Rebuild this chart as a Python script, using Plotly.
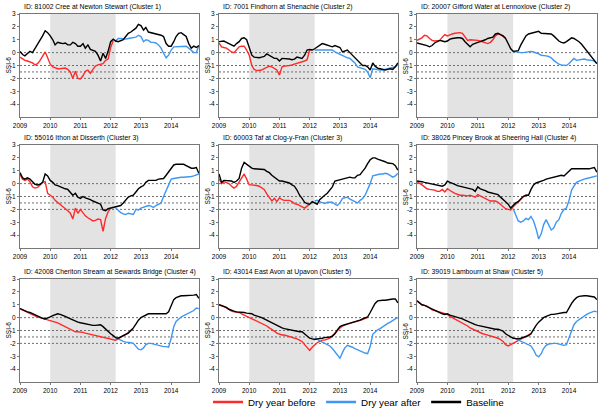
import pandas as pd
import plotly.graph_objects as go

MONTHS = pd.date_range("2009-01-01", "2014-12-01", freq="MS")
AFTER_START = "2012-03-01"
SHADE_START, SHADE_END = "2010-01-01", "2012-03-01"
THRESHOLDS = [0, -1, -1.5, -2]
Y_TICKS = [-4, -3, -2, -1, 0, 1, 2, 3]
X_TICK_YEARS = ["2009", "2010", "2011", "2012", "2013", "2014"]
SERIES_NAMES = ["Dry year before", "Dry year after", "Baseline"]

TITLES = [
    "ID: 81002 Cree at Newton Stewart (Cluster 1)",
    "ID: 7001 Findhorn at Shenachie (Cluster 2)",
    "ID: 20007 Gifford Water at Lennoxlove (Cluster 2)",
    "ID: 55016 Ithon at Disserth (Cluster 3)",
    "ID: 60003 Taf at Clog-y-Fran (Cluster 3)",
    "ID: 38026 Pincey Brook at Sheering Hall (Cluster 4)",
    "ID: 42008 Cheriton Stream at Sewards Bridge (Cluster 4)",
    "ID: 43014 East Avon at Upavon (Cluster 5)",
    "ID: 39019 Lambourn at Shaw (Cluster 5)",
]

# ---------- 81002 Cree ----------
cree_base = [0.1, -0.15, -0.25, -0.1, 0.1, 0.0, 0.3, 0.6, 1.0, 1.3, 1.7, 1.55,
             1.3, 1.0, 0.6, 0.8, 0.75, 0.7, 0.75, 0.6, 0.6, 0.8, 0.7, 0.5,
             0.5, 0.7, 0.35, 0.6, 0.25, 0.2, 0.1, -0.2, -0.65, -0.05, -0.45, 0.1,
             0.85, 1.05, 0.9, 0.85, 0.9, 1.0, 1.25, 1.5, 1.6, 1.75, 1.9, 2.2,
             2.1, 1.75, 1.95, 1.6, 1.55, 1.55, 1.5, 1.4, 1.35, 1.25, 0.7, 0.5,
             0.5, 0.85, 1.25, 1.5, 1.55, 1.4, 1.25, 0.7, 0.35, 0.5, 0.4, 0.55]
cree_before = [-0.35, -0.5, -0.6, -0.65, -0.7, -0.8, -0.95, -0.85, -0.6, -0.3, 0.05, -0.4,
               -0.9, -1.1, -1.2, -1.25, -1.25, -1.25, -1.2, -1.3, -1.5, -2.0, -1.45, -2.0,
               -2.05, -1.8, -1.45, -1.35, -1.6, -1.3, -1.05, -0.95, -0.9, -0.85, -0.6, -0.5,
               0.4, 0.95]
cree_after = [0.9, 1.1, 1.1, 1.05, 1.05, 1.1, 1.15, 1.2, 1.2, 1.35,
              1.25, 0.85, 1.0, 0.95, 0.8, 0.8, 0.75, 0.6, 0.35, -0.05, -0.4, -0.2,
              0.2, 0.45, 0.45, 0.45, 0.5, 0.45, 0.5, 0.35, 0.2, 0.0, 0.0, 0.55]

# ---------- 7001 Findhorn ----------
findhorn_base = [0.85, 0.85, 0.9, 0.8, 0.7, 0.6, 0.5, 0.7, 0.85, 1.1, 1.15, 1.0,
                 0.3, -0.2, -0.35, -0.4, -0.4, -0.35, -0.3, -0.1, -0.2, -0.3, -0.45, -0.45,
                 -0.65, -0.45, -0.45, -0.45, -0.5, -0.55, -0.5, -0.35, -0.4, -0.45, -0.2, 0.2,
                 0.25, 0.2, 0.3, 0.45, 0.6, 0.7, 0.65, 0.6, 0.5, 0.45, 0.55, 0.45,
                 0.4, 0.05, 0.15, 0.2, 0.0, -0.2, -0.4, -0.6, -0.8, -1.0, -1.0, -1.1,
                 -1.35, -0.8, -1.05, -1.2, -1.25, -1.3, -1.35, -1.3, -1.25, -1.3, -1.1, -0.8]
findhorn_before = [0.75, 0.45, 0.4, 0.35, 0.2, 0.05, 0.0, 0.25, 0.45, 0.5, 0.5, 0.2,
                   -0.2, -1.0, -1.3, -1.4, -1.4, -1.35, -1.25, -1.15, -1.05, -1.1, -1.2, -1.35,
                   -1.75, -1.1, -1.05, -1.05, -1.0, -0.95, -0.9, -0.85, -0.8, -0.7, -0.65, -0.55,
                   0.2, 0.2]
findhorn_after = [0.2, 0.2, 0.2, 0.2, 0.2, 0.15, 0.15, 0.2, 0.05, -0.05,
                  -0.1, -0.2, -0.35, -0.4, -0.45, -0.6, -0.8, -1.1, -1.15, -1.25, -1.3, -1.5,
                  -1.95, -1.25, -1.3, -1.35, -1.35, -1.35, -1.3, -1.25, -1.2, -1.15, -1.1, -0.95]

# ---------- 20007 Gifford Water ----------
gifford_base = [0.75, 0.7, 0.7, 0.65, 0.55, 0.45, 0.55, 0.75, 0.85, 0.95, 0.9, 0.85,
                0.9, 1.05, 1.1, 1.15, 1.15, 1.15, 1.1, 0.85, 0.6, 0.45, 0.65, 0.75,
                0.8, 0.85, 0.95, 1.0, 1.1, 1.15, 1.2, 1.45, 1.5, 1.4, 1.3, 1.1,
                0.75, 0.3, 0.1, 0.1, 0.15, 0.6, 1.0, 1.3, 1.45, 1.5, 1.55, 1.6,
                1.65, 1.5, 1.5, 1.5, 1.5, 1.45, 1.3, 1.1, 0.9, 0.8, 0.75, 0.85,
                1.0, 1.15, 1.1, 1.0, 0.85, 0.65, 0.4, 0.15, -0.1, -0.35, -0.6, -0.85]
gifford_before = [0.95, 1.05, 1.15, 1.35, 1.3, 1.1, 0.95, 0.9, 0.95, 0.95, 1.2, 1.4,
                  1.3, 1.4, 1.45, 1.5, 1.55, 1.55, 1.5, 1.2, 0.95, 1.0, 1.0, 0.95,
                  0.95, 0.9, 0.85, 0.75, 0.7, 0.8, 1.0, 1.3, 1.45, 1.4, 1.3, 1.15]
gifford_after = [0.1, 0.05, 0.0, 0.0, 0.0, 0.05, 0.05, 0.1, 0.05, 0.0,
                 -0.1, -0.2, -0.2, -0.25, -0.3, -0.4, -0.6, -0.75, -0.9, -0.95, -1.0, -1.0,
                 -0.85, -0.6, -0.45, -0.6, -0.55, -0.5, -0.5, -0.55, -0.55, -0.6, -0.65, -0.85]

# ---------- 55016 Ithon ----------
ithon_base = [0.85, 0.45, 0.35, 0.45, 0.35, 0.15, -0.05, -0.1, -0.05, 0.1, 0.75, 0.6,
              0.25, 0.1, -0.1, -0.15, -0.25, -0.3, -0.4, -0.45, -0.65, -0.9, -0.75, -1.05,
              -1.15, -1.0, -1.1, -1.15, -1.25, -1.35, -1.45, -1.55, -1.6, -2.05, -2.1, -1.95,
              -1.9, -1.85, -1.85, -1.75, -1.7, -1.5, -1.3, -1.05, -0.95, -0.9, -0.65, -0.4,
              -0.25, -0.15, 0.1, 0.25, 0.25, 0.25, 0.25, 0.35, 0.4, 0.4, 0.65, 0.9,
              1.2, 1.45, 1.5, 1.5, 1.55, 1.5, 1.4, 1.3, 1.2, 1.2, 1.25, 0.8]
ithon_before = [0.7, 0.35, 0.25, 0.35, 0.15, -0.25, -0.35, -0.3, -0.1, 0.1, 0.15, -0.75,
                -0.9, -1.05, -1.3, -1.45, -1.6, -1.75, -1.9, -2.1, -2.3, -2.75, -1.9, -2.3,
                -2.0, -2.25, -2.5, -2.65, -2.8, -2.9, -2.85, -2.75, -2.8, -3.7, -2.7, -2.2,
                -1.9]
ithon_after = [-1.9, -2.1, -2.25, -2.35, -2.4, -2.3, -2.35, -2.4, -2.0, -2.05,
               -1.9, -1.85, -1.8, -1.7, -1.75, -1.85, -1.7, -1.6, -1.5, -1.0, -0.5, 0.0,
               0.35, 0.4, 0.45, 0.45, 0.5, 0.5, 0.5, 0.55, 0.55, 0.6, 0.65, 0.75]

# ---------- 60003 Taf ----------
taf_base = [0.75, 0.1, 0.25, 0.25, 0.25, 0.2, 0.1, 0.2, 0.4, 1.2, 1.65, 1.5,
            1.4, 1.2, 1.15, 1.15, 1.1, 1.1, 1.1, 0.95, 0.85, 0.65, 0.5, 0.4,
            0.2, 0.2, 0.15, 0.1, 0.05, -0.1, -0.2, -0.5, -0.9, -1.15, -1.45, -1.55,
            -1.6, -1.4, -1.5, -1.6, -1.25, -1.05, -0.9, -0.75, -0.5, -0.25, 0.2, 0.25,
            0.3, 0.35, 0.4, 0.5, 0.5, 0.45, 0.45, 0.65, 0.7, 0.95, 1.2, 1.55,
            1.85, 2.0, 2.0, 1.9, 1.85, 1.75, 1.7, 1.6, 1.6, 1.55, 1.4, 1.05]
taf_before = [0.4, 0.0, 0.15, 0.1, 0.0, -0.2, -0.35, -0.2, 0.1, 0.4, 0.75, 0.35,
              -0.1, -0.1, -0.1, -0.15, -0.2, -0.3, -0.45, -0.8, -1.1, -1.35, -1.15, -1.4,
              -1.1, -1.25, -1.3, -1.3, -1.3, -1.4, -1.55, -1.6, -1.7, -1.8, -1.9, -1.75,
              -1.6]
taf_after = [-1.35, -1.3, -1.4, -1.5, -1.55, -1.45, -1.45, -1.45, -1.6, -1.7,
             -1.5, -1.15, -1.1, -1.05, -1.2, -1.3, -1.45, -1.5, -1.3, -1.15, -0.9, -0.5,
             0.0, 0.6, 0.65, 0.7, 0.75, 0.75, 0.8, 0.75, 0.6, 0.5, 0.6, 0.8]

# ---------- 38026 Pincey Brook ----------
pincey_base = [0.2, 0.2, 0.15, 0.1, 0.05, 0.0, -0.05, -0.1, -0.15, -0.2, -0.2, -0.1,
               0.2, 0.1, 0.0, -0.05, -0.15, -0.2, -0.3, -0.35, -0.35, -0.4, -0.45, -0.6,
               -0.25, -0.4, -0.5, -0.55, -0.65, -0.7, -0.7, -0.75, -0.85, -1.05, -1.2, -1.4,
               -1.6, -1.9, -1.7, -1.5, -1.4, -1.2, -1.0, -0.9, -0.9, -0.45, -0.1, 0.05,
               0.1, 0.2, 0.25, 0.35, 0.4, 0.45, 0.45, 0.5, 0.6, 0.65, 0.6, 0.8,
               0.95, 1.15, 1.15, 1.15, 1.15, 1.1, 1.1, 1.15, 1.15, 1.2, 1.25, 0.9]
pincey_before = [0.15, 0.05, -0.1, -0.25, -0.4, -0.45, -0.45, -0.5, -0.6, -0.6, -0.45, -0.65,
                 -0.4, -0.55, -0.65, -0.75, -0.85, -0.9, -0.9, -0.95, -0.95, -0.9, -0.95, -1.05,
                 -0.85, -0.95, -1.05, -1.15, -1.3, -1.35, -1.35, -1.35, -1.45, -1.6, -1.75, -1.95,
                 -2.0, -2.05, -1.8, -1.55, -1.4, -1.2, -1.0, -0.9, -0.9]
pincey_after = [-1.95, -2.4, -2.9, -3.0, -2.9, -2.7, -2.8, -2.55, -2.9, -3.5,
                -4.3, -3.9, -3.2, -2.8, -3.2, -3.6, -3.45, -3.0, -2.8, -2.3, -2.0, -1.9,
                -1.3, -0.5, -0.2, 0.1, 0.2, 0.3, 0.35, 0.4, 0.45, 0.5, 0.6, 0.6]

# ---------- 42008 Cheriton Stream ----------
cheriton_base = [0.7, 0.6, 0.5, 0.45, 0.4, 0.3, 0.2, 0.1, 0.0, -0.05, -0.1, -0.05,
                 0.05, 0.15, 0.25, 0.3, 0.25, 0.2, 0.1, 0.0, -0.1, -0.2, -0.3, -0.35,
                 -0.4, -0.45, -0.5, -0.55, -0.6, -0.6, -0.6, -0.6, -0.55, -0.7, -0.9, -1.1,
                 -1.25, -1.4, -1.55, -1.6, -1.5, -1.4, -1.3, -1.2, -1.0, -0.8, -0.5, -0.2,
                 0.0, 0.1, 0.2, 0.3, 0.3, 0.3, 0.25, 0.25, 0.25, 0.25, 0.3, 0.45,
                 1.0, 1.4, 1.55, 1.65, 1.7, 1.7, 1.7, 1.7, 1.7, 1.75, 1.8, 1.5]
cheriton_before = [0.7, 0.6, 0.5, 0.45, 0.35, 0.25, 0.15, 0.05, 0.0, -0.05, -0.1, -0.15,
                   -0.2, -0.25, -0.3, -0.4, -0.5, -0.6, -0.75, -0.85, -0.95, -1.05, -1.1, -1.1,
                   -1.1, -1.15, -1.2, -1.25, -1.3, -1.35, -1.4, -1.4, -1.45, -1.5, -1.55, -1.65,
                   -1.7, -1.75, -1.75, -1.65, -1.5, -1.4, -1.3, -1.15, -1.0, -0.85]
cheriton_after = [-1.55, -1.65, -1.8, -1.85, -1.9, -1.9, -1.95, -2.0, -2.2, -2.45,
                  -2.5, -2.35, -2.1, -2.0, -2.0, -2.05, -2.1, -2.2, -2.2, -2.25, -2.25, -2.3,
                  -1.6, -0.7, -0.3, -0.1, 0.05, 0.15, 0.25, 0.35, 0.45, 0.55, 0.75, 0.7]

# ---------- 43014 East Avon ----------
avon_base = [1.0, 0.95, 0.85, 0.8, 0.65, 0.55, 0.5, 0.45, 0.45, 0.4, 0.4, 0.35,
             0.35, 0.3, 0.2, 0.15, 0.05, 0.0, -0.1, -0.2, -0.3, -0.45, -0.55, -0.65,
             -0.7, -0.8, -0.85, -0.9, -0.95, -0.95, -1.0, -1.05, -1.1, -1.1, -1.25, -1.45,
             -1.6, -1.65, -1.7, -1.65, -1.65, -1.6, -1.55, -1.55, -1.5, -1.45, -1.25, -0.95,
             -0.7, -0.6, -0.55, -0.45, -0.4, -0.35, -0.3, -0.25, -0.2, -0.1, 0.0, 0.05,
             0.4, 0.8, 1.1, 1.3, 1.35, 1.35, 1.35, 1.4, 1.45, 1.45, 1.45, 1.15]
avon_before = [1.0, 0.95, 0.85, 0.75, 0.6, 0.5, 0.45, 0.45, 0.4, 0.3, 0.2, 0.1,
               0.05, -0.05, -0.15, -0.25, -0.35, -0.45, -0.55, -0.65, -0.8, -0.9, -1.05, -1.2,
               -1.3, -1.35, -1.35, -1.4, -1.45, -1.5, -1.6, -1.65, -1.75, -1.85, -2.1, -2.35,
               -2.55, -2.3, -2.1, -1.95, -1.85, -1.75, -1.75, -1.7, -1.6, -1.4, -1.2, -0.95,
               -0.8, -0.65, -0.55, -0.5, -0.45, -0.4, -0.35, -0.3, -0.25, -0.15, -0.05, 0.0]
avon_after = [-1.6, -1.7, -1.75, -1.85, -1.95, -2.05, -2.2, -2.4, -2.65, -2.95,
              -3.15, -2.7, -2.35, -2.15, -2.2, -2.3, -2.4, -2.5, -2.6, -2.7, -2.75, -2.8,
              -2.25, -1.3, -1.1, -0.95, -0.85, -0.7, -0.6, -0.45, -0.35, -0.2, -0.1, 0.0]

# ---------- 39019 Lambourn ----------
lambourn_base = [1.3, 1.15, 1.0, 0.95, 0.85, 0.75, 0.65, 0.55, 0.45, 0.4, 0.3, 0.25,
                 0.3, 0.2, 0.15, 0.1, 0.05, 0.0, -0.1, -0.2, -0.3, -0.4, -0.5, -0.55,
                 -0.6, -0.65, -0.7, -0.75, -0.8, -0.8, -0.85, -0.9, -0.9, -0.95, -1.05, -1.25,
                 -1.4, -1.5, -1.6, -1.65, -1.65, -1.6, -1.55, -1.5, -1.4, -1.25, -0.9, -0.6,
                 -0.35, -0.15, 0.0, 0.1, 0.2, 0.25, 0.25, 0.3, 0.35, 0.35, 0.4, 0.4,
                 0.8, 1.1, 1.35, 1.55, 1.65, 1.7, 1.7, 1.7, 1.65, 1.6, 1.6, 1.4]
lambourn_before = [1.3, 1.15, 1.0, 0.95, 0.9, 0.75, 0.6, 0.55, 0.5, 0.4, 0.35, 0.3,
                   0.25, 0.1, 0.0, -0.1, -0.2, -0.3, -0.4, -0.55, -0.65, -0.8, -0.9, -1.0,
                   -1.05, -1.15, -1.25, -1.3, -1.35, -1.4, -1.45, -1.5, -1.6, -1.7, -1.85, -2.1,
                   -2.2, -2.1, -2.0, -1.9, -1.8, -1.7, -1.6, -1.5, -1.35, -1.25]
lambourn_after = [-1.55, -1.65, -1.7, -1.8, -1.9, -2.0, -2.1, -2.2, -2.5, -2.9,
                  -3.05, -2.8, -2.4, -2.15, -2.05, -2.0, -2.0, -2.0, -2.05, -2.1, -2.15, -2.1,
                  -1.6, -0.95, -0.55, -0.3, -0.15, 0.0, 0.15, 0.25, 0.35, 0.45, 0.5, 0.45]

PANELS = [
    (cree_base, cree_before, cree_after),
    (findhorn_base, findhorn_before, findhorn_after),
    (gifford_base, gifford_before, gifford_after),
    (ithon_base, ithon_before, ithon_after),
    (taf_base, taf_before, taf_after),
    (pincey_base, pincey_before, pincey_after),
    (cheriton_base, cheriton_before, cheriton_after),
    (avon_base, avon_before, avon_after),
    (lambourn_base, lambourn_before, lambourn_after),
]

RED, BLUE, BLACK = "#ff2a2a", "#3d97f3", "#000000"
COLORS = [RED, BLUE, BLACK]
FONT = "Liberation Sans"
W, H = 600, 412
COL_PX = [(20, 199), (219, 398), (417, 597)]
ROW_PX = [(14, 117), (145, 248), (279, 382)]

fig = go.Figure()
after_idx = list(MONTHS).index(pd.Timestamp(AFTER_START))
annotations, shapes = [], []

for i, (base, before, after) in enumerate(PANELS):
    n = i + 1
    sfx = "" if n == 1 else str(n)
    r, c = divmod(i, 3)
    x0p, x1p = COL_PX[c]
    y0p, y1p = ROW_PX[r]
    xa, ya = f"x{sfx}", f"y{sfx}"
    fig.add_trace(go.Scatter(x=MONTHS[:len(before)], y=before, mode="lines",
                             line=dict(color=RED, width=1.4), name=SERIES_NAMES[0],
                             showlegend=False, xaxis=xa, yaxis=ya))
    fig.add_trace(go.Scatter(x=MONTHS[after_idx:after_idx + len(after)], y=after, mode="lines",
                             line=dict(color=BLUE, width=1.4), name=SERIES_NAMES[1],
                             showlegend=False, xaxis=xa, yaxis=ya))
    fig.add_trace(go.Scatter(x=MONTHS, y=base, mode="lines",
                             line=dict(color=BLACK, width=1.4), name=SERIES_NAMES[2],
                             showlegend=False, xaxis=xa, yaxis=ya))
    fig.update_layout(**{
        f"xaxis{sfx}": dict(domain=[x0p / W, x1p / W], anchor=ya, type="date",
                            range=["2009-01-01", "2014-12-03"],
                            tickvals=[f"{y}-01-01" for y in X_TICK_YEARS], ticktext=X_TICK_YEARS,
                            ticks="outside", ticklen=2, tickcolor="#777",
                            showline=True, mirror=True, linecolor="#777", linewidth=1,
                            showgrid=False, zeroline=False,
                            tickfont=dict(size=6.5, family=FONT, color="#000")),
        f"yaxis{sfx}": dict(domain=[1 - y1p / H, 1 - y0p / H], anchor=xa,
                            range=[-5, 3], tickvals=Y_TICKS, ticktext=[str(v) for v in Y_TICKS],
                            ticks="outside", ticklen=2, tickcolor="#777",
                            showline=True, mirror=True, linecolor="#777", linewidth=1,
                            showgrid=False, zeroline=False,
                            tickfont=dict(size=6.5, family=FONT, color="#000")),
    })
    shapes.append(dict(type="rect", xref=xa, yref=f"{ya} domain",
                       x0=SHADE_START, x1=SHADE_END, y0=0, y1=1,
                       fillcolor="#e3e3e3", line=dict(width=0), layer="below"))
    for t in THRESHOLDS:
        shapes.append(dict(type="line", xref=f"{xa} domain", yref=ya, x0=0, x1=1, y0=t, y1=t,
                           line=dict(color="#6e6e6e", width=1, dash="2px,2px"), layer="below"))
    annotations.append(dict(text=TITLES[i], xref=f"{xa} domain", yref=f"{ya} domain",
                            x=0, y=1, xanchor="left", yanchor="bottom", xshift=2, yshift=1,
                            showarrow=False, font=dict(size=6.8, family=FONT, color="#000")))
    annotations.append(dict(text="SSI-6", xref=f"{xa} domain", yref=f"{ya} domain",
                            x=0, y=0.5, xanchor="center", yanchor="middle", xshift=-12,
                            textangle=-90, showarrow=False,
                            font=dict(size=6.5, family=FONT, color="#000")))

# legend-only entries (no data marks), drawn with a thicker key line
for name, col in zip(SERIES_NAMES, COLORS):
    fig.add_trace(go.Scatter(x=[None], y=[None], mode="lines", name=name,
                             line=dict(color=col, width=2.5), showlegend=True,
                             xaxis="x", yaxis="y"))

fig.update_layout(
    width=W, height=H, margin=dict(l=0, r=0, t=0, b=0, autoexpand=False),
    paper_bgcolor="white", plot_bgcolor="rgba(0,0,0,0)",
    shapes=shapes, annotations=annotations,
    showlegend=True,
    legend=dict(orientation="h", x=359 / W, y=1 - 402 / H, xanchor="center", yanchor="middle",
                font=dict(size=9.8, family=FONT, color="#000"), bgcolor="rgba(0,0,0,0)",
                itemwidth=30, tracegroupgap=0),
    font=dict(family=FONT),
)

fig.write_html("out.html", config={"displayModeBar": False},
               post_script="document.body.style.margin='0';document.body.style.padding='0';")
